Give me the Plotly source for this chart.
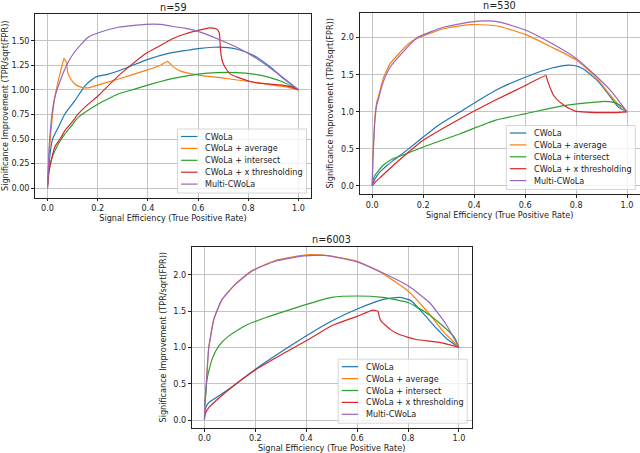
import plotly.graph_objects as go

# ---------------- data ----------------
SERIES = ["CWoLa", "CWoLa + average", "CWoLa + intersect", "CWoLa + x thresholding", "Multi-CWoLa"]
COLORS = ["#1f77b4", "#ff7f0e", "#2ca02c", "#d62728", "#9467bd"]
TITLES = ["n=59", "n=530", "n=6003"]
X_TICKS = [0.0, 0.2, 0.4, 0.6, 0.8, 1.0]
Y_TICKS_59 = [0.0, 0.25, 0.5, 0.75, 1.0, 1.25, 1.5]
Y_TICKS_BIG = [0.0, 0.5, 1.0, 1.5, 2.0]
X_LABEL = "Signal Efficiency (True Positive Rate)"
Y_LABEL = "Significance Improvement (TPR/sqrt(FPR))"

# n = 59
n59_cwola_x = [0, 0.008, 0.018, 0.025, 0.043, 0.069, 0.109, 0.149, 0.18, 0.196, 0.242, 0.3, 0.349, 0.4, 0.482, 0.55, 0.6, 0.662, 0.72, 0.76, 0.822, 0.889, 0.943, 0.975, 1.0]
n59_cwola_y = [0.02, 0.3, 0.48, 0.53, 0.62, 0.755, 0.89, 1.04, 1.11, 1.134, 1.16, 1.21, 1.26, 1.31, 1.37, 1.40, 1.42, 1.433, 1.43, 1.41, 1.35, 1.23, 1.11, 1.05, 1.0]
n59_avg_x = [0, 0.005, 0.016, 0.029, 0.049, 0.06, 0.066, 0.07, 0.076, 0.08, 0.09, 0.109, 0.13, 0.149, 0.17, 0.189, 0.283, 0.389, 0.45, 0.478, 0.5, 0.53, 0.6, 0.7, 0.756, 0.82, 0.889, 0.95, 1.0]
n59_avg_y = [0.0, 0.28, 0.65, 0.925, 1.16, 1.27, 1.32, 1.30, 1.28, 1.18, 1.12, 1.06, 1.03, 1.02, 1.025, 1.04, 1.11, 1.195, 1.25, 1.29, 1.236, 1.19, 1.15, 1.12, 1.10, 1.08, 1.05, 1.03, 1.0]
n59_int_x = [0, 0.005, 0.01, 0.029, 0.05, 0.069, 0.1, 0.122, 0.16, 0.202, 0.25, 0.283, 0.35, 0.389, 0.45, 0.496, 0.55, 0.6, 0.676, 0.75, 0.822, 0.88, 0.929, 0.97, 1.0]
n59_int_y = [0.03, 0.18, 0.25, 0.38, 0.48, 0.55, 0.65, 0.72, 0.79, 0.857, 0.92, 0.96, 1.01, 1.04, 1.085, 1.115, 1.14, 1.16, 1.175, 1.175, 1.16, 1.13, 1.09, 1.04, 1.0]
n59_thr_x = [0, 0.005, 0.009, 0.029, 0.05, 0.069, 0.1, 0.122, 0.16, 0.202, 0.283, 0.389, 0.45, 0.496, 0.55, 0.6, 0.646, 0.665, 0.678, 0.684, 0.686, 0.688, 0.692, 0.698, 0.71, 0.729, 0.756, 0.822, 0.88, 0.929, 0.97, 1.0]
n59_thr_y = [0.03, 0.15, 0.21, 0.42, 0.5, 0.585, 0.68, 0.755, 0.85, 0.94, 1.145, 1.365, 1.45, 1.517, 1.57, 1.605, 1.63, 1.625, 1.61, 1.58, 1.55, 1.45, 1.35, 1.28, 1.22, 1.16, 1.13, 1.077, 1.06, 1.05, 1.03, 1.0]
n59_multi_x = [0, 0.005, 0.01, 0.02, 0.029, 0.056, 0.08, 0.109, 0.162, 0.209, 0.283, 0.389, 0.45, 0.489, 0.55, 0.6, 0.686, 0.756, 0.82, 0.889, 0.956, 1.0]
n59_multi_y = [0.0, 0.35, 0.55, 0.8, 0.925, 1.13, 1.27, 1.39, 1.535, 1.585, 1.636, 1.665, 1.665, 1.65, 1.625, 1.595, 1.51, 1.43, 1.34, 1.22, 1.09, 1.0]

# n = 530
n530_cwola_x = [0, 0.01, 0.03, 0.056, 0.083, 0.135, 0.2, 0.26, 0.345, 0.42, 0.502, 0.603, 0.705, 0.771, 0.81, 0.836, 0.889, 0.935, 0.967, 1.0]
n530_cwola_y = [0.02, 0.09, 0.19, 0.27, 0.345, 0.48, 0.66, 0.82, 1.0, 1.16, 1.32, 1.47, 1.59, 1.63, 1.61, 1.56, 1.40, 1.20, 1.06, 1.0]
n530_avg_x = [0, 0.002, 0.004, 0.01, 0.017, 0.024, 0.043, 0.057, 0.07, 0.109, 0.14, 0.175, 0.28, 0.384, 0.45, 0.5, 0.603, 0.705, 0.8, 0.876, 0.94, 0.98, 1.0]
n530_avg_y = [0.0, 0.32, 0.5, 0.9, 1.12, 1.2, 1.45, 1.56, 1.65, 1.80, 1.91, 1.99, 2.12, 2.175, 2.17, 2.15, 2.04, 1.87, 1.70, 1.47, 1.2, 1.04, 1.0]
n530_int_x = [0, 0.01, 0.043, 0.083, 0.135, 0.2, 0.345, 0.482, 0.603, 0.745, 0.876, 0.915, 0.954, 0.98, 1.0]
n530_int_y = [0.05, 0.14, 0.28, 0.37, 0.435, 0.526, 0.705, 0.885, 0.975, 1.08, 1.13, 1.14, 1.12, 1.07, 1.0]
n530_thr_x = [0, 0.01, 0.03, 0.083, 0.135, 0.2, 0.345, 0.482, 0.603, 0.682, 0.686, 0.692, 0.702, 0.712, 0.73, 0.745, 0.77, 0.797, 0.84, 0.876, 0.954, 1.0]
n530_thr_y = [0.0, 0.05, 0.11, 0.28, 0.435, 0.616, 0.907, 1.155, 1.357, 1.49, 1.44, 1.38, 1.29, 1.22, 1.15, 1.11, 1.05, 1.01, 0.995, 0.99, 0.99, 1.0]
n530_multi_x = [0, 0.002, 0.004, 0.01, 0.017, 0.024, 0.043, 0.07, 0.109, 0.175, 0.28, 0.384, 0.45, 0.5, 0.603, 0.705, 0.8, 0.876, 0.94, 1.0]
n530_multi_y = [0.0, 0.3, 0.46, 0.86, 1.08, 1.17, 1.40, 1.60, 1.76, 1.995, 2.14, 2.21, 2.225, 2.21, 2.10, 1.92, 1.72, 1.49, 1.27, 1.0]

# n = 6003
n6003_cwola_x = [0, 0.005, 0.017, 0.056, 0.121, 0.2, 0.317, 0.409, 0.5, 0.6, 0.7, 0.766, 0.81, 0.857, 0.91, 0.955, 1.0]
n6003_cwola_y = [0.09, 0.17, 0.24, 0.33, 0.49, 0.70, 0.975, 1.18, 1.365, 1.53, 1.66, 1.69, 1.65, 1.48, 1.27, 1.11, 1.0]
n6003_avg_x = [0, 0.003, 0.007, 0.017, 0.037, 0.069, 0.121, 0.187, 0.278, 0.383, 0.42, 0.474, 0.6, 0.7, 0.8, 0.884, 0.936, 0.975, 1.0]
n6003_avg_y = [0.0, 0.3, 0.48, 1.0, 1.39, 1.66, 1.87, 2.06, 2.2, 2.27, 2.28, 2.27, 2.19, 2.02, 1.78, 1.46, 1.23, 1.09, 1.0]
n6003_int_x = [0.001, 0.004, 0.01, 0.03, 0.056, 0.096, 0.16, 0.239, 0.343, 0.5, 0.6, 0.7, 0.8, 0.871, 0.936, 0.982, 1.0]
n6003_int_y = [0.2, 0.285, 0.56, 0.84, 1.02, 1.16, 1.30, 1.41, 1.53, 1.69, 1.71, 1.69, 1.62, 1.48, 1.30, 1.14, 1.0]
n6003_thr_x = [0, 0.005, 0.017, 0.056, 0.121, 0.2, 0.317, 0.409, 0.5, 0.6, 0.662, 0.681, 0.685, 0.688, 0.695, 0.707, 0.73, 0.753, 0.8, 0.832, 0.923, 1.0]
n6003_thr_y = [0.02, 0.1, 0.17, 0.3, 0.49, 0.69, 0.93, 1.11, 1.30, 1.43, 1.515, 1.50, 1.46, 1.41, 1.36, 1.32, 1.25, 1.20, 1.14, 1.11, 1.07, 1.0]
n6003_multi_x = [0, 0.003, 0.007, 0.017, 0.022, 0.037, 0.069, 0.121, 0.187, 0.278, 0.383, 0.474, 0.6, 0.7, 0.8, 0.884, 0.949, 1.0]
n6003_multi_y = [0.0, 0.29, 0.47, 1.0, 1.1, 1.39, 1.66, 1.87, 2.055, 2.19, 2.26, 2.27, 2.18, 2.03, 1.85, 1.62, 1.32, 1.0]

PANELS = [
    [(n59_cwola_x, n59_cwola_y), (n59_avg_x, n59_avg_y), (n59_int_x, n59_int_y),
     (n59_thr_x, n59_thr_y), (n59_multi_x, n59_multi_y)],
    [(n530_cwola_x, n530_cwola_y), (n530_avg_x, n530_avg_y), (n530_int_x, n530_int_y),
     (n530_thr_x, n530_thr_y), (n530_multi_x, n530_multi_y)],
    [(n6003_cwola_x, n6003_cwola_y), (n6003_avg_x, n6003_avg_y), (n6003_int_x, n6003_int_y),
     (n6003_thr_x, n6003_thr_y), (n6003_multi_x, n6003_multi_y)],
]

# ---------------- layout ----------------
W, H = 640, 453
FONT = "DejaVu Sans"
FS = 8.1
BOXES = [(35, 14, 311, 197.5), (359.5, 12.7, 639.8, 194), (191.7, 246.7, 471.7, 427.7)]
Y_RANGES = [[-0.094, 1.771], [-0.108, 2.336], [-0.106, 2.39]]
Y_TICKSETS = [(Y_TICKS_59, ".2f"), (Y_TICKS_BIG, ".1f"), (Y_TICKS_BIG, ".1f")]
Y_STANDOFF = [2, 6, 5]

fig = go.Figure()
for p, panel in enumerate(PANELS):
    sfx = "" if p == 0 else str(p + 1)
    for (xs, ys), name, color in zip(panel, SERIES, COLORS):
        fig.add_trace(go.Scatter(x=xs, y=ys, mode="lines", name=name,
                                 line=dict(color=color, width=1.2, shape="spline", smoothing=0.5),
                                 xaxis="x" + sfx, yaxis="y" + sfx, showlegend=False))

axis_common = dict(showline=True, linecolor="#222222", linewidth=0.8, mirror=True,
                   ticks="outside", ticklen=3, tickwidth=0.8, tickcolor="#222222",
                   showgrid=True, gridcolor="#c4c4c4", gridwidth=0.7, zeroline=False,
                   tickfont=dict(family=FONT, size=FS, color="#222222"))

layout = dict(width=W, height=H, margin=dict(l=0, r=0, t=0, b=0),
              plot_bgcolor="white", paper_bgcolor="white", showlegend=False,
              font=dict(family=FONT, size=FS, color="#222222"))

annotations = []
shapes = []
for p, (l, t, r, b) in enumerate(BOXES):
    sfx = "" if p == 0 else str(p + 1)
    yt, yfmt = Y_TICKSETS[p]
    layout["xaxis" + sfx] = dict(axis_common, domain=[l / W, r / W], range=[-0.05, 1.05],
                                 tickvals=X_TICKS, tickformat=".1f", anchor="y" + sfx,
                                 title=dict(text=X_LABEL, standoff=3,
                                            font=dict(family=FONT, size=FS, color="#222222")))
    layout["yaxis" + sfx] = dict(axis_common, domain=[1 - b / H, 1 - t / H], range=Y_RANGES[p],
                                 tickvals=yt, tickformat=yfmt, anchor="x" + sfx,
                                 title=dict(text=Y_LABEL, standoff=Y_STANDOFF[p],
                                            font=dict(family=FONT, size=FS, color="#222222")))
    # subplot title
    annotations.append(dict(text=TITLES[p], xref=("x" + sfx) + " domain", yref=("y" + sfx) + " domain",
                            x=0.5, y=1, xanchor="center", yanchor="bottom", yshift=0.5, borderpad=0,
                            showarrow=False, font=dict(family=FONT, size=9.7, color="#222222")))
    # legend (lower right, matplotlib style)
    right, bottom = r - 4.5, b - 4.5
    left, top = right - 129, bottom - 64
    shapes.append(dict(type="rect", xref="paper", yref="paper", x0=left / W, x1=right / W,
                       y0=1 - bottom / H, y1=1 - top / H, layer="above",
                       line=dict(color="#cccccc", width=0.8), fillcolor="rgba(255,255,255,0.8)"))
    for k, (name, color) in enumerate(zip(SERIES, COLORS)):
        yc = top + 7.5 + 11.9 * k
        shapes.append(dict(type="line", xref="paper", yref="paper", x0=(left + 3.5) / W,
                           x1=(left + 20) / W, y0=1 - yc / H, y1=1 - yc / H, layer="above",
                           line=dict(color=color, width=1.2)))
        annotations.append(dict(text=name, xref="paper", yref="paper", x=(left + 26.5) / W,
                                y=1 - yc / H, xanchor="left", yanchor="middle", showarrow=False,
                                borderpad=0, font=dict(family=FONT, size=FS, color="#222222")))

layout["annotations"] = annotations
layout["shapes"] = shapes
fig.update_layout(**layout)
fig.write_html("out.html", config={"displayModeBar": False},
               post_script="document.body.style.margin='0';document.body.style.overflow='hidden';")
